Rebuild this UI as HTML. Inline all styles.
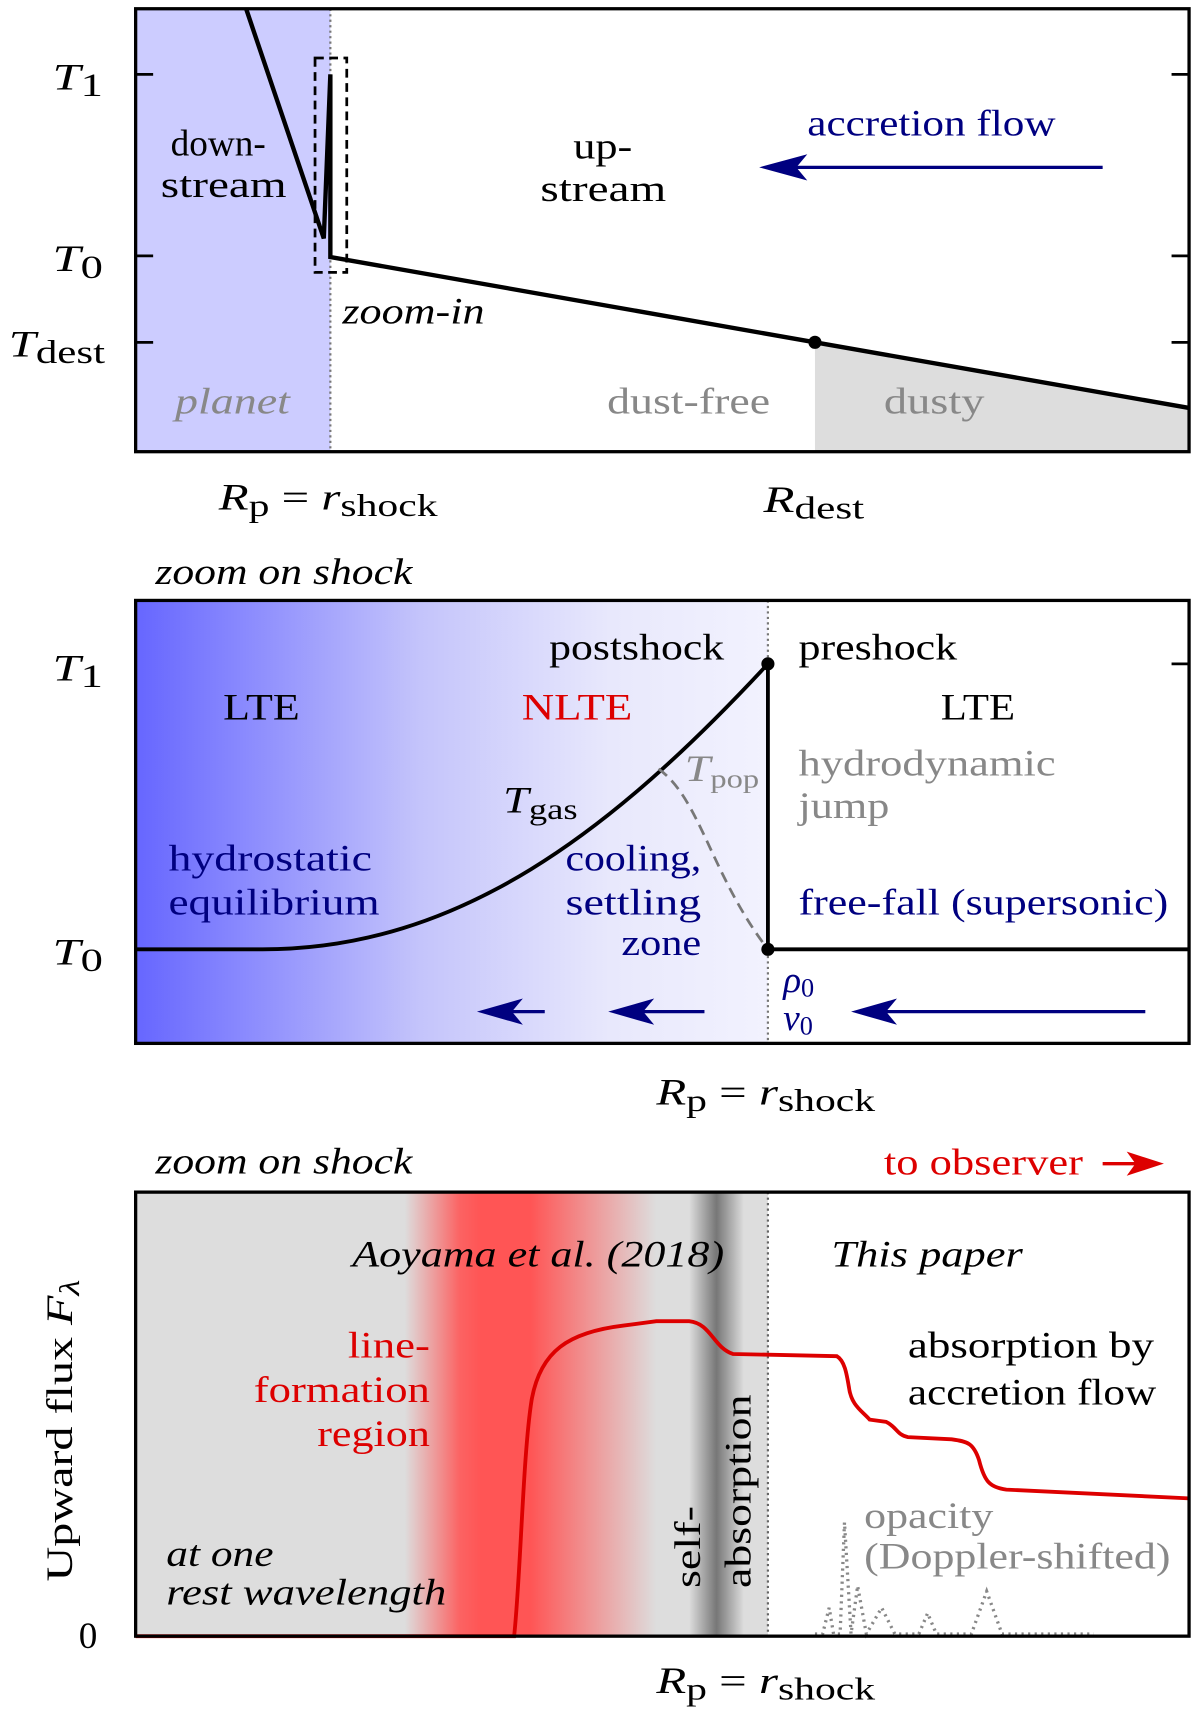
<!DOCTYPE html>
<html><head><meta charset="utf-8"><style>
html,body{margin:0;padding:0;background:#fff;width:1200px;height:1716px;overflow:hidden}
svg{display:block}
text{font-family:"Liberation Serif","DejaVu Serif",serif;font-size:34px}
.i{font-style:italic}
</style></head><body>
<svg width="1200" height="1716" viewBox="0 0 1097 1569" preserveAspectRatio="none" xmlns="http://www.w3.org/2000/svg">
<defs>
<linearGradient id="g2" x1="124" x2="702" gradientUnits="userSpaceOnUse">
<stop offset="0" stop-color="#6666ff"/><stop offset="0.45" stop-color="#c4c4fb"/><stop offset="0.75" stop-color="#e8e8fc"/><stop offset="1" stop-color="#f2f2fe"/>
</linearGradient>
<linearGradient id="red" x1="370" x2="600" gradientUnits="userSpaceOnUse">
<stop offset="0" stop-color="#ff5555" stop-opacity="0"/><stop offset="0.22" stop-color="#ff5555" stop-opacity="0.9"/><stop offset="0.3" stop-color="#ff5555"/><stop offset="0.5" stop-color="#ff5555"/><stop offset="0.7" stop-color="#ff5555" stop-opacity="0.6"/><stop offset="1" stop-color="#ff5555" stop-opacity="0"/>
</linearGradient>
<linearGradient id="dk" x1="630" x2="680" gradientUnits="userSpaceOnUse">
<stop offset="0" stop-color="#777" stop-opacity="0"/><stop offset="0.5" stop-color="#777"/><stop offset="1" stop-color="#777" stop-opacity="0"/>
</linearGradient>
</defs>

<!-- Panel 1 -->
<rect x="124" y="8" width="178" height="405" fill="#ccccff"/>
<polygon points="745,313 1087,373 1087,413 745,413" fill="#dddddd"/>
<line x1="302" y1="8" x2="302" y2="413" stroke="#777" stroke-width="2" stroke-dasharray="2,3"/>
<rect x="288" y="53" width="29" height="196" fill="none" stroke="#000" stroke-width="2.5" stroke-dasharray="8,5"/>
<polyline points="225,8 296,218 302,68 302,235 745,313 1087,373" fill="none" stroke="#000" stroke-width="4" stroke-linejoin="miter"/>
<circle cx="745" cy="313" r="6"/>
<rect x="124" y="8" width="963" height="405" fill="none" stroke="#000" stroke-width="3"/>
<g stroke="#000" stroke-width="2.5"><line x1="124" y1="68" x2="140" y2="68"/><line x1="124" y1="234" x2="140" y2="234"/><line x1="124" y1="313" x2="140" y2="313"/><line x1="1071" y1="68" x2="1087" y2="68"/><line x1="1071" y1="234" x2="1087" y2="234"/><line x1="1071" y1="313" x2="1087" y2="313"/></g>
<text x="48" y="82" class="i" font-size="42" textLength="46" lengthAdjust="spacingAndGlyphs">T<tspan font-size="30" font-style="normal" dy="6">1</tspan></text>
<text x="48" y="248" class="i" font-size="42" textLength="46" lengthAdjust="spacingAndGlyphs">T<tspan font-size="30" font-style="normal" dy="6">0</tspan></text>
<text x="8" y="326" class="i" font-size="42" textLength="88" lengthAdjust="spacingAndGlyphs">T<tspan font-size="30" font-style="normal" dy="6">dest</tspan></text>
<text x="156" y="142" textLength="87" lengthAdjust="spacingAndGlyphs">down-</text><text x="147" y="180" textLength="115" lengthAdjust="spacingAndGlyphs">stream</text>
<text x="524" y="145" textLength="54" lengthAdjust="spacingAndGlyphs">up-</text><text x="494" y="184" textLength="115" lengthAdjust="spacingAndGlyphs">stream</text>
<text x="738" y="124" fill="#000080" textLength="227" lengthAdjust="spacingAndGlyphs">accretion flow</text>
<line x1="1008" y1="153" x2="715" y2="153" stroke="#000080" stroke-width="3"/>
<polygon points="694,153 738,141 728,153 738,165" fill="#000080"/>
<text x="313" y="296" class="i" font-size="31" textLength="130" lengthAdjust="spacingAndGlyphs">zoom-in</text>
<text x="160" y="378" class="i" fill="#888" textLength="105" lengthAdjust="spacingAndGlyphs">planet</text>
<text x="555" y="378" fill="#888" textLength="149" lengthAdjust="spacingAndGlyphs">dust-free</text>
<text x="808" y="378" fill="#888" textLength="92" lengthAdjust="spacingAndGlyphs">dusty</text>
<text x="200" y="466" class="i" font-size="40" textLength="200" lengthAdjust="spacingAndGlyphs">R<tspan font-size="29" font-style="normal" dy="6">p</tspan><tspan font-style="normal" dy="-6"> = </tspan>r<tspan font-size="29" font-style="normal" dy="6">shock</tspan></text>
<text x="698" y="468" class="i" font-size="40" textLength="92" lengthAdjust="spacingAndGlyphs">R<tspan font-size="29" font-style="normal" dy="6">dest</tspan></text>

<!-- Panel 2 -->
<text x="142" y="534" class="i" font-size="31" textLength="235" lengthAdjust="spacingAndGlyphs">zoom on shock</text>
<rect x="124" y="549" width="578" height="405" fill="url(#g2)"/>
<line x1="702" y1="549" x2="702" y2="954" stroke="#777" stroke-width="2" stroke-dasharray="2,3"/>
<path d="M124,868 L240,868 C420,868 560,760 702,607 L702,868 L1087,868" fill="none" stroke="#000" stroke-width="3.5"/>
<path d="M602,703 C640,730 650,800 702,868" fill="none" stroke="#777" stroke-width="2.5" stroke-dasharray="10,6"/>
<circle cx="702" cy="607" r="6"/><circle cx="702" cy="868" r="6"/>
<rect x="124" y="549" width="963" height="405" fill="none" stroke="#000" stroke-width="3"/>
<g stroke="#000" stroke-width="2.5"><line x1="1071" y1="607" x2="1087" y2="607"/><line x1="1071" y1="868" x2="1087" y2="868"/></g>
<text x="48" y="622" class="i" font-size="42" textLength="46" lengthAdjust="spacingAndGlyphs">T<tspan font-size="30" font-style="normal" dy="6">1</tspan></text>
<text x="48" y="882" class="i" font-size="42" textLength="46" lengthAdjust="spacingAndGlyphs">T<tspan font-size="30" font-style="normal" dy="6">0</tspan></text>
<text x="502" y="603" textLength="160" lengthAdjust="spacingAndGlyphs">postshock</text><text x="730" y="603" textLength="145" lengthAdjust="spacingAndGlyphs">preshock</text>
<text x="204" y="658" textLength="70" lengthAdjust="spacingAndGlyphs">LTE</text><text x="477" y="658" fill="#dd0000" textLength="101" lengthAdjust="spacingAndGlyphs">NLTE</text><text x="860" y="658" textLength="68" lengthAdjust="spacingAndGlyphs">LTE</text>
<text x="626" y="714" class="i" fill="#888" textLength="68" lengthAdjust="spacingAndGlyphs">T<tspan font-size="24" font-style="normal" dy="6" fill="#888">pop</tspan></text>
<text x="460" y="743" class="i" font-size="38" textLength="68" lengthAdjust="spacingAndGlyphs">T<tspan font-size="27" font-style="normal" dy="6">gas</tspan></text>
<text x="730" y="709" fill="#888" textLength="235" lengthAdjust="spacingAndGlyphs">hydrodynamic</text><text x="730" y="748" fill="#888" textLength="83" lengthAdjust="spacingAndGlyphs">jump</text>
<text x="154" y="796" fill="#000080" textLength="186" lengthAdjust="spacingAndGlyphs">hydrostatic</text><text x="154" y="836" fill="#000080" textLength="193" lengthAdjust="spacingAndGlyphs">equilibrium</text>
<text x="517" y="796" fill="#000080" textLength="124" lengthAdjust="spacingAndGlyphs">cooling,</text><text x="517" y="836" fill="#000080" textLength="124" lengthAdjust="spacingAndGlyphs">settling</text><text x="568" y="873" fill="#000080" textLength="73" lengthAdjust="spacingAndGlyphs">zone</text>
<text x="730" y="836" fill="#000080" textLength="338" lengthAdjust="spacingAndGlyphs">free-fall (supersonic)</text>
<text x="716" y="907" class="i" fill="#000080">ρ<tspan font-size="24" font-style="normal" dy="4">0</tspan></text>
<text x="716" y="942" class="i" fill="#000080">v<tspan font-size="24" font-style="normal" dy="4">0</tspan></text>
<g fill="#000080" stroke="#000080" stroke-width="3">
<line x1="1047" y1="925" x2="795" y2="925"/><polygon points="778,925 820,913 810,925 820,937" stroke="none"/>
<line x1="644" y1="925" x2="575" y2="925"/><polygon points="556,925 598,913 588,925 598,937" stroke="none"/>
<line x1="498" y1="925" x2="455" y2="925"/><polygon points="436,925 478,913 468,925 478,937" stroke="none"/>
</g>
<text x="600" y="1010" class="i" font-size="40" textLength="200" lengthAdjust="spacingAndGlyphs">R<tspan font-size="29" font-style="normal" dy="6">p</tspan><tspan font-style="normal" dy="-6"> = </tspan>r<tspan font-size="29" font-style="normal" dy="6">shock</tspan></text>

<!-- Panel 3 -->
<text x="142" y="1073" class="i" font-size="31" textLength="235" lengthAdjust="spacingAndGlyphs">zoom on shock</text>
<text x="808" y="1074" fill="#dd0000" font-size="32" textLength="182" lengthAdjust="spacingAndGlyphs">to observer</text>
<line x1="1008" y1="1064" x2="1045" y2="1064" stroke="#dd0000" stroke-width="3"/>
<polygon points="1064,1064 1030,1053 1038,1064 1030,1075" fill="#dd0000"/>
<rect x="124" y="1090" width="578" height="406" fill="#dddddd"/>
<rect x="370" y="1090" width="230" height="406" fill="url(#red)"/>
<rect x="630" y="1090" width="50" height="406" fill="url(#dk)"/>
<line x1="702" y1="1090" x2="702" y2="1496" stroke="#666" stroke-width="2" stroke-dasharray="2,3"/>
<path d="M124,1496 L470,1496 C476,1440 478,1330 486,1280 C494,1235 520,1218 570,1212 L600,1208 L630,1208 C650,1210 652,1232 670,1238 L765,1240 C772,1244 774,1256 776,1268 C778,1285 788,1290 795,1298 L810,1300 C820,1305 820,1312 830,1314 L870,1316 C885,1318 890,1320 895,1335 C900,1355 905,1360 920,1362 L1087,1370" fill="none" stroke="#dd0000" stroke-width="3.5"/>
<path d="M745,1494 L752,1494 L758,1470 L762,1494 L768,1494 L772,1392 L778,1494 L784,1450 L792,1494 L806,1470 L818,1494 L840,1494 L848,1475 L856,1494 L888,1494 L902,1455 L916,1494 L1000,1494" fill="none" stroke="#888" stroke-width="3" stroke-dasharray="2,4"/>
<rect x="124" y="1090" width="963" height="406" fill="none" stroke="#000" stroke-width="3"/>
<text x="322" y="1158" class="i" textLength="340" lengthAdjust="spacingAndGlyphs">Aoyama et al. (2018)</text>
<text x="760" y="1158" class="i" textLength="175" lengthAdjust="spacingAndGlyphs">This paper</text>
<text x="318" y="1241" fill="#dd0000" textLength="75" lengthAdjust="spacingAndGlyphs">line-</text><text x="232" y="1282" fill="#dd0000" textLength="161" lengthAdjust="spacingAndGlyphs">formation</text><text x="290" y="1322" fill="#dd0000" textLength="103" lengthAdjust="spacingAndGlyphs">region</text>
<text x="830" y="1241" textLength="225" lengthAdjust="spacingAndGlyphs">absorption by</text><text x="830" y="1284" textLength="227" lengthAdjust="spacingAndGlyphs">accretion flow</text>
<text x="790" y="1397" fill="#888" textLength="118" lengthAdjust="spacingAndGlyphs">opacity</text><text x="790" y="1434" fill="#888" textLength="280" lengthAdjust="spacingAndGlyphs">(Doppler-shifted)</text>
<text x="152" y="1432" class="i" textLength="98" lengthAdjust="spacingAndGlyphs">at one</text><text x="152" y="1467" class="i" textLength="256" lengthAdjust="spacingAndGlyphs">rest wavelength</text>
<text transform="translate(640,1452) rotate(-90)" textLength="75" lengthAdjust="spacingAndGlyphs">self-</text>
<text transform="translate(686,1452) rotate(-90)" textLength="177" lengthAdjust="spacingAndGlyphs">absorption</text>
<text transform="translate(66,1446) rotate(-90)" font-size="38" textLength="276" lengthAdjust="spacingAndGlyphs">Upward flux <tspan class="i">F</tspan><tspan font-size="26" class="i" dy="6">λ</tspan></text>
<text x="72" y="1507" font-size="34">0</text>
<text x="600" y="1548" class="i" font-size="40" textLength="200" lengthAdjust="spacingAndGlyphs">R<tspan font-size="29" font-style="normal" dy="6">p</tspan><tspan font-style="normal" dy="-6"> = </tspan>r<tspan font-size="29" font-style="normal" dy="6">shock</tspan></text>
</svg>
</body></html>
